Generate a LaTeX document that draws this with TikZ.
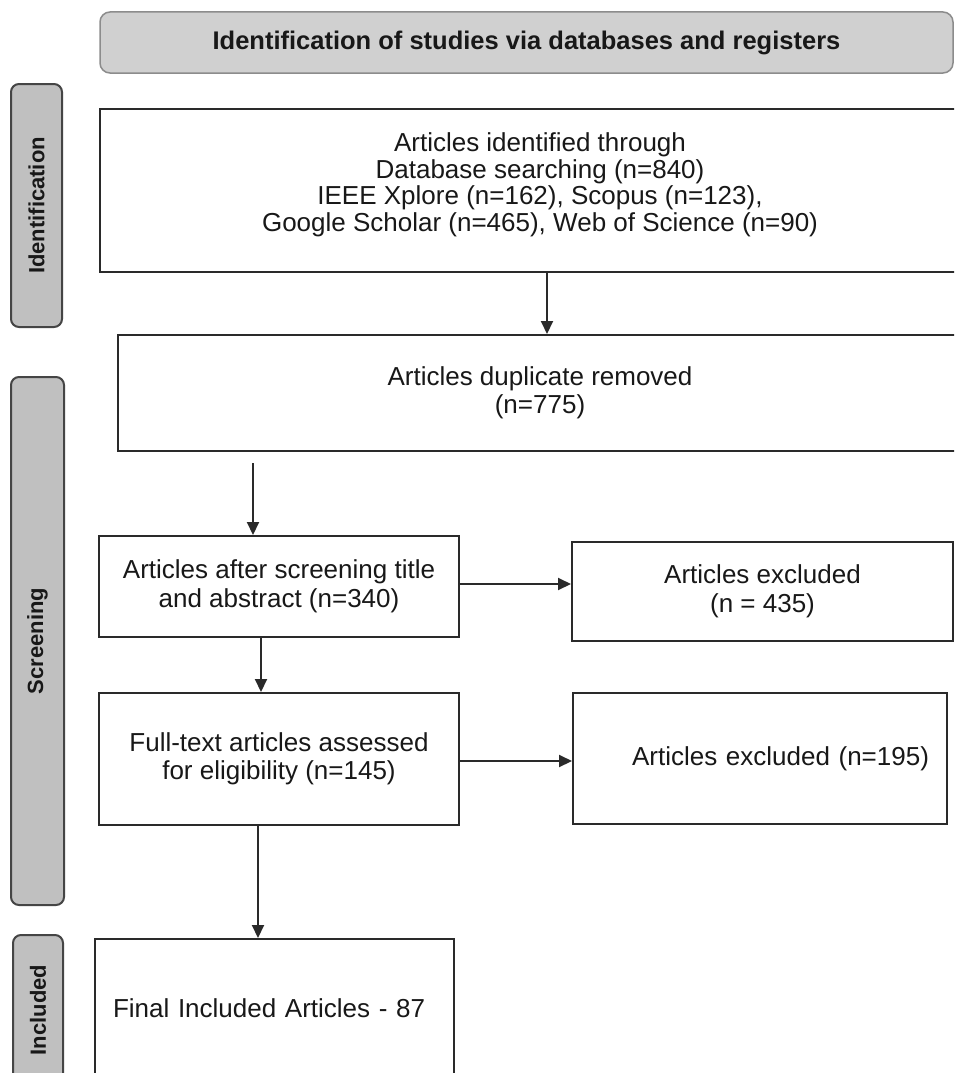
\documentclass[tikz,border=0pt]{standalone}
\usepackage{fontspec}
\setmainfont{Liberation Sans}
\usetikzlibrary{arrows.meta}
\definecolor{boxline}{HTML}{2A2A2A}
\definecolor{txt}{HTML}{181818}
\definecolor{stagefill}{HTML}{C0C0C0}
\definecolor{stageline}{HTML}{454545}
\definecolor{headfill}{HTML}{D0D0D0}
\definecolor{headline}{HTML}{8C8C8C}
\begin{document}
\begin{tikzpicture}[x=1pt,y=-1pt,
  box/.style={draw=boxline, line width=2pt, fill=white, text=txt, inner sep=0pt,
    align=center, font=\fontsize{26}{28.5}\selectfont},
  stage/.style={draw=stageline, line width=2pt, fill=stagefill, rounded corners=8pt,
    text=txt, inner sep=0pt, font=\bfseries\fontsize{22}{24}\selectfont},
  header/.style={draw=headline, line width=1.5pt, fill=headfill, rounded corners=10pt,
    text=txt, inner sep=0pt, font=\bfseries\fontsize{25.5}{28}\selectfont},
  arr/.style={draw=boxline, line width=2pt, -{Triangle[length=13pt,width=12pt]}},
]
\useasboundingbox (0,0) rectangle (954,1073);
\clip (0,0) rectangle (954,1073);
\fill[white] (0,0) rectangle (954,1073);

% title bar
\node[header, minimum width=853pt, minimum height=61pt] (hdr) at (526.5,42.5)
  {Identification of studies via databases and registers};

% stage labels on the left
\node[stage, rotate=90, minimum width=243pt, minimum height=51pt] (sid) at (36.5,205.5) {Identification};
\node[stage, rotate=90, minimum width=528pt, minimum height=53pt] (sscr) at (37.5,641) {Screening};
\node[stage, rotate=90, minimum width=150pt, minimum height=50pt] (sinc) at (38,1010) {Included};

% flow boxes
\node[box, minimum width=880pt, minimum height=163pt, text depth=17pt,
  font=\fontsize{26}{26.5}\selectfont] (b1) at (540,190.5)
  {Articles identified through\\Database searching (n=840)\\IEEE Xplore (n=162), Scopus (n=123),\\Google Scholar (n=465), Web of Science (n=90)};
\node[box, minimum width=844pt, minimum height=116pt] (b2) at (540,393)
  {Articles duplicate removed\\(n=775)};
\node[box, minimum width=360pt, minimum height=101pt] (b3) at (279,586.5)
  {Articles after screening title\\and abstract (n=340)};
\node[box, minimum width=381pt, minimum height=99pt] (b4) at (762.5,591.5)
  {Articles excluded\\(n = 435)};
\node[box, minimum width=360pt, minimum height=132pt] (b5) at (279,759)
  {Full-text articles assessed\\for eligibility (n=145)};
\node[box, minimum width=374pt, minimum height=131pt, inner xsep=18pt, text width=338pt, align=right] (b6) at (760,758.5)
  {Articles excluded (n=195)};
\node[box, minimum width=359pt, minimum height=139pt, inner xsep=18pt, text width=323pt, align=left] (b7) at (274.5,1008.5)
  {Final Included Articles - 87};

% connectors
\coordinate (c2) at (253,463);
\draw[arr] ([xshift=7pt]b1.south) -- ([xshift=7pt]b1.south |- b2.north);
\draw[arr] (c2) -- (c2 |- b3.north);
\draw[arr] ([yshift=2.5pt]b3.east) -- ([yshift=2.5pt]b3.east -| b4.west);
\draw[arr] ([xshift=-18pt]b3.south) -- ([xshift=-18pt]b3.south |- b5.north);
\draw[arr] ([yshift=-2pt]b5.east) -- ([yshift=-2pt]b5.east -| b6.west);
\draw[arr] ([xshift=-21pt]b5.south) -- ([xshift=-21pt]b5.south |- b7.north);
\end{tikzpicture}
\end{document}
